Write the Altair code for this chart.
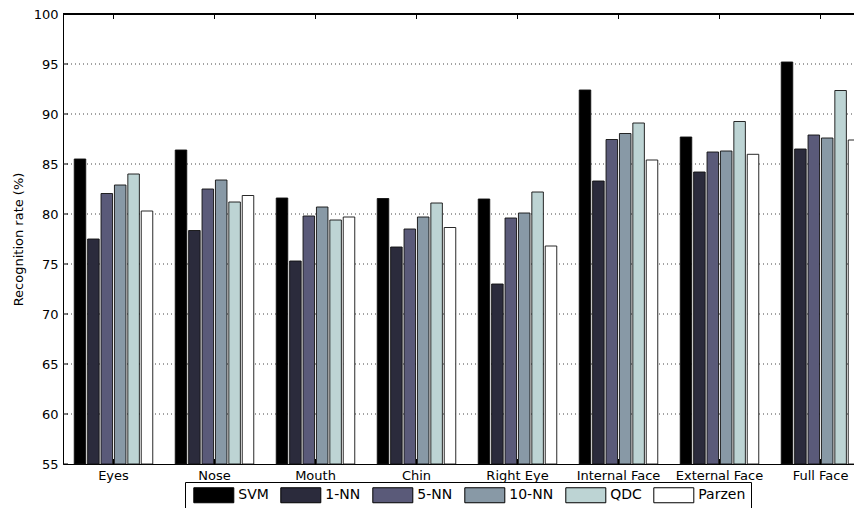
import altair as alt
import pandas as pd

regions = ["Eyes", "Nose", "Mouth", "Chin", "Right Eye", "Internal Face", "External Face", "Full Face"]
methods = ["SVM", "1-NN", "5-NN", "10-NN", "QDC", "Parzen"]
svm = [85.5, 86.4, 81.6, 81.55, 81.5, 92.4, 87.7, 95.2]
nn1 = [77.5, 78.35, 75.3, 76.7, 73.0, 83.3, 84.2, 86.5]
nn5 = [82.05, 82.5, 79.8, 78.5, 79.6, 87.45, 86.2, 87.9]
nn10 = [82.9, 83.4, 80.7, 79.7, 80.1, 88.05, 86.3, 87.6]
qdc = [84.0, 81.2, 79.4, 81.1, 82.2, 89.1, 89.25, 92.35]
parzen = [80.3, 81.85, 79.7, 78.65, 76.8, 85.4, 85.97, 87.4]
colors = ["#000000", "#2b2b3c", "#5a5a79", "#8899a6", "#bdd4d4", "#ffffff"]
y_ticks = [55, 60, 65, 70, 75, 80, 85, 90, 95, 100]
grid_vals = [60, 65, 70, 75, 80, 85, 90, 95]

series = [svm, nn1, nn5, nn10, qdc, parzen]
rows = []
for m, vals in zip(methods, series):
    for r, v in zip(regions, vals):
        rows.append({"region": r, "method": m, "rate": v})
df = pd.DataFrame(rows)
df_yt = pd.DataFrame({"rate": y_ticks})
df_grid = pd.DataFrame({"rate": grid_vals})
df_xt = pd.DataFrame({"region": regions})

FONT = "DejaVu Sans"
YTITLE = "Recognition rate (%)"
W = 791      # visible plot width (fits the window)
FULL = 808   # full axis length (the reference's axes run past the right edge)
H = 450

x_scale = alt.Scale(domain=regions, range=[0, FULL], paddingInner=0.204, paddingOuter=0.102)
y_scale = alt.Scale(domain=[55, 100], nice=False, zero=False)

y_axis = alt.Axis(values=y_ticks, tickSize=0, labelPadding=5, labelFontSize=13,
                  titleFontSize=13, titleFontWeight="normal", titlePadding=8,
                  grid=False, domainColor="black", labelColor="black", titleColor="black",
                  labelFont=FONT, titleFont=FONT)
x_axis = alt.Axis(title=None, labelAngle=0, tickSize=0, labelPadding=5, labelFontSize=13,
                  domainColor="black", labelColor="black", labelFont=FONT, grid=False)

X = alt.X("region:N", scale=x_scale, axis=x_axis, sort=regions)

grid = alt.Chart(df_grid).mark_rule(color="#444444", strokeWidth=1, strokeDash=[1, 3]).encode(
    x=alt.value(0), x2=alt.value(FULL),
    y=alt.Y("rate:Q", scale=y_scale, axis=y_axis, title=YTITLE),
)

bars = alt.Chart(df).mark_bar(stroke="#111111", strokeWidth=0.9).encode(
    x=X,
    xOffset=alt.XOffset("method:N", sort=methods,
                        scale=alt.Scale(domain=methods, paddingInner=0.14, paddingOuter=0.07)),
    y=alt.Y("rate:Q", scale=y_scale, axis=y_axis, title=YTITLE),
    y2=alt.datum(55),
    color=alt.Color("method:N", sort=methods,
                    scale=alt.Scale(domain=methods, range=colors),
                    legend=alt.Legend(orient="none", legendX=122, legendY=468,
                                      direction="horizontal", columns=6, title=None,
                                      symbolType="M-2.6667,-1L2.6667,-1L2.6667,1L-2.6667,1Z",
                                      symbolSize=225, symbolOffset=15.8,
                                      symbolStrokeColor="black",
                                      symbolStrokeWidth=1, symbolOpacity=1,
                                      labelFontSize=14, labelFont=FONT, labelColor="black",
                                      labelOffset=16.5, columnPadding=8, padding=5,
                                      strokeColor="black", fillColor="white")),
)

left_ticks = alt.Chart(df_yt).mark_rule(color="black", strokeWidth=1).encode(
    x=alt.value(0), x2=alt.value(5),
    y=alt.Y("rate:Q", scale=y_scale, axis=y_axis, title=YTITLE),
)
top_line = alt.Chart(df_xt).mark_rule(color="black", strokeWidth=1).encode(
    x=alt.value(0), x2=alt.value(FULL),
    y=alt.datum(100),
)
top_ticks = alt.Chart(df_xt).mark_rule(color="black", strokeWidth=1).encode(
    x=X, y=alt.value(0), y2=alt.value(5),
)
bottom_ticks = alt.Chart(df_xt).mark_rule(color="black", strokeWidth=1).encode(
    x=X, y=alt.value(H), y2=alt.value(H - 5),
)

chart = alt.layer(grid, bars, left_ticks, top_line, top_ticks, bottom_ticks).properties(
    width=W, height=H,
    padding={"left": 55, "top": 6, "right": 0, "bottom": 44},
    autosize=alt.AutoSizeParams(type="none"),
).configure_view(stroke=None).configure(background="white")

chart.save("out.html", embed_options={"renderer": "svg", "actions": False})
